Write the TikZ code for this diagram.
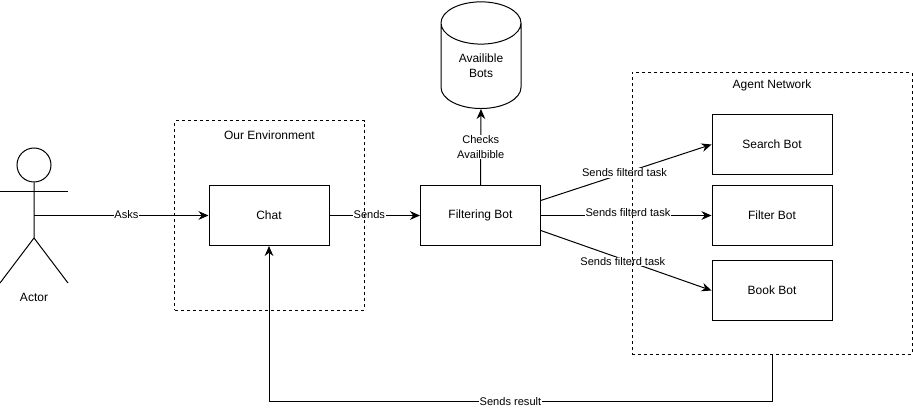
\documentclass[tikz,border=0pt]{standalone}
\usepackage{fontspec}
\setmainfont{Liberation Sans}
\usetikzlibrary{arrows.meta,backgrounds,shapes.geometric}
\tikzset{
	botbox/.style={draw, line width=0.75pt, minimum width=90pt, minimum height=45pt, inner sep=0pt},
	dashbox/.style={draw, dashed, dash pattern=on 2.25pt off 2.25pt, line width=0.75pt, inner sep=0pt},
	flow/.style={line width=0.75pt, -{Stealth[length=7.5pt,width=6.5pt]}},
	edgetext/.style={fill=white, inner sep=0.4pt, align=center, font=\fontsize{8.3}{10.8}\selectfont},
	plaintext/.style={font=\fontsize{9}{11.5}\selectfont, align=center, inner sep=0pt},
}

\begin{document}
\begin{tikzpicture}[x=0.75pt, y=-0.75pt]
	\useasboundingbox (0,0) rectangle (913,409);

	\node[dashbox, minimum width=142pt, minimum height=142pt] (environment) at (269.5,215.5) {};
	\node[plaintext] (environmenttext) at (269.5,135.5) {Our Environment};
	\node[dashbox, minimum width=210pt, minimum height=211pt] (agentnet) at (772,213.5) {};
	\node[plaintext] (agentnettext) at (772,85.5) {Agent Network};

	\node[botbox, plaintext] (chat) at (269,215.5) {Chat};
	\node[botbox, plaintext] (filtering) at (480.5,215.5) {Filtering Bot};
	\node[botbox, plaintext] (search) at (772,144.5) {Search Bot};
	\node[botbox, plaintext] (filter) at (772,215.5) {Filter Bot};
	\node[botbox, plaintext] (book) at (772,290.5) {Book Bot};

	\node[draw, line width=0.75pt, cylinder, shape border rotate=90, aspect=0.95, minimum width=60pt, minimum height=80pt, inner sep=0pt, plaintext] (bots) at (481,66) {Availible\\Bots};

	% actor
	\node[draw, circle, line width=0.75pt, minimum size=25.5pt, inner sep=0pt] (actorhead) at (34,165) {};
	\coordinate (actorbody) at (34,215.5);
	\coordinate (actorhip) at (34,238);
	\draw[line width=0.75pt] (actorhead.south) -- (actorhip) -- (0,283);
	\draw[line width=0.75pt] (actorhip) -- (68,283);
	\draw[line width=0.75pt] (0,192) -- (68,192);
	\node[plaintext] (actortext) at (34,297) {Actor};

	\begin{scope}[on background layer]
		\draw[flow] (actorbody) -- node[edgetext, pos=0.53, yshift=1pt] {Asks} (chat.west);
		\draw[flow] (chat.east) -- node[edgetext, pos=0.44, yshift=0.5pt] {Sends} (filtering.west);
		\draw[flow] (filtering.north) -- node[edgetext, pos=0.5] {Checks\\Availbible} (bots.south);
		\draw[flow] (filtering.14) -- node[edgetext, pos=0.49] {Sends filterd task} (search.west);
		\draw[flow] (filtering.east) -- node[edgetext, pos=0.51, yshift=2pt] {Sends filterd task} (filter.west);
		\draw[flow] (filtering.-14) -- node[edgetext, pos=0.48, yshift=-1.5pt] {Sends filterd task} (book.west);
		\draw[flow] (agentnet.south) -- ++(0,47) -| node[edgetext, pos=0.26] {Sends result} (chat.south);
	\end{scope}
\end{tikzpicture}
\end{document}
